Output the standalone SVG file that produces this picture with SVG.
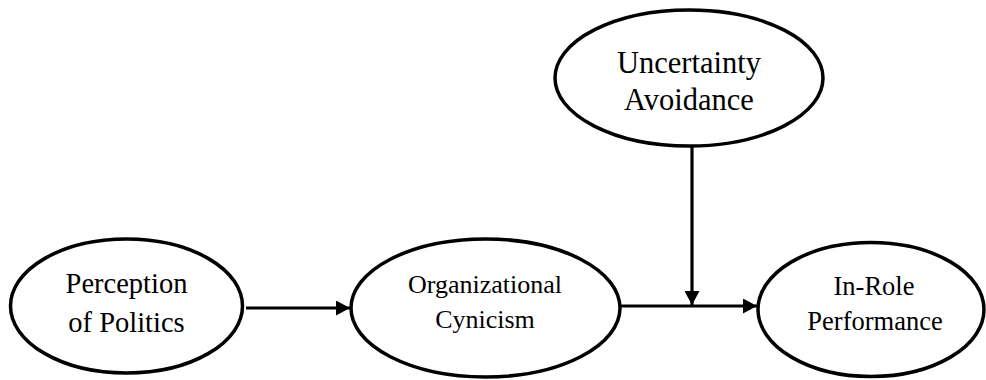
<svg xmlns="http://www.w3.org/2000/svg" width="986" height="380" viewBox="0 0 986 380">
<style>
.node{fill:#fff;stroke:#000;stroke-width:3.5}
.lbl{font-family:"Liberation Serif","Times New Roman",serif;fill:#000;text-anchor:middle}
.edge{stroke:#000;stroke-width:3.2;fill:none}
</style>
<defs>
<marker id="ah" viewBox="0 0 14 15" refX="14" refY="7.5" markerWidth="14" markerHeight="15" markerUnits="userSpaceOnUse" orient="auto">
<path d="M0,0 L14,7.5 L0,15 Z" fill="#000"/>
</marker>
</defs>
<rect width="986" height="380" fill="#fff"/>
<g id="edges">
<line class="edge" x1="246" y1="308" x2="350" y2="308" marker-end="url(#ah)"/>
<line class="edge" x1="621" y1="306" x2="757" y2="306" marker-end="url(#ah)"/>
<line class="edge" x1="692" y1="147" x2="692" y2="305" marker-end="url(#ah)"/>
</g>
<g id="perception">
<ellipse class="node" cx="126.5" cy="306" rx="116" ry="67"/>
<text class="lbl" x="126.5" y="293" font-size="28.5">Perception</text>
<text class="lbl" x="126.5" y="332" font-size="28.5">of Politics</text>
</g>
<g id="cynicism">
<ellipse class="node" cx="485.5" cy="308" rx="134.5" ry="69"/>
<text class="lbl" x="485" y="293" font-size="26">Organizational</text>
<text class="lbl" x="485" y="328" font-size="26">Cynicism</text>
</g>
<g id="uncertainty">
<ellipse class="node" cx="689" cy="78" rx="134" ry="68"/>
<text class="lbl" x="689" y="73" font-size="30.5">Uncertainty</text>
<text class="lbl" x="689" y="110" font-size="30.5">Avoidance</text>
</g>
<g id="inrole">
<ellipse class="node" cx="871" cy="309.5" rx="113" ry="67"/>
<text class="lbl" x="874" y="295" font-size="26.5">In-Role</text>
<text class="lbl" x="875" y="330" font-size="26.5">Performance</text>
</g>
</svg>
